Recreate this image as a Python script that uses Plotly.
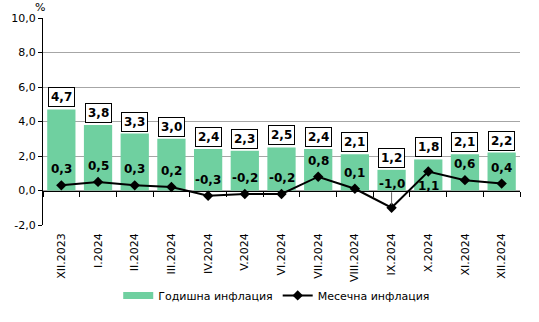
import plotly.graph_objects as go

# Periods and inflation rates (%)
periods = ["XII.2023", "I.2024", "II.2024", "III.2024", "IV.2024", "V.2024",
           "VI.2024", "VII.2024", "VIII.2024", "IX.2024", "X.2024", "XI.2024", "XII.2024"]
annual = [4.7, 3.8, 3.3, 3.0, 2.4, 2.3, 2.5, 2.4, 2.1, 1.2, 1.8, 2.1, 2.2]
monthly = [0.3, 0.5, 0.3, 0.2, -0.3, -0.2, -0.2, 0.8, 0.1, -1.0, 1.1, 0.6, 0.4]
y_ticks = [-2, 0, 2, 4, 6, 8, 10]

FONT = "DejaVu Sans"
BAR_COLOR = "#6fd0a0"


def fmt(v):
    return f"{v:.1f}".replace(".", ",")


fig = go.Figure()

fig.add_trace(go.Bar(
    x=periods, y=annual, name="Годишна инфлация",
    marker=dict(color=BAR_COLOR, line=dict(width=0)),
    xaxis="x", yaxis="y", showlegend=False,
))
# Legend key for the bars drawn as a thick flat stripe
fig.add_trace(go.Scatter(
    x=[None], y=[None], name="Годишна инфлация", mode="lines",
    line=dict(color=BAR_COLOR, width=7), xaxis="x", yaxis="y",
))
fig.add_trace(go.Scatter(
    x=periods, y=monthly, name="Месечна инфлация",
    mode="lines+markers",
    line=dict(color="black", width=2),
    marker=dict(symbol="diamond", size=8, color="black"),
    xaxis="x2", yaxis="y",
))

annotations = []
# Boxed annual labels above the bars
for p, v in zip(periods, annual):
    annotations.append(dict(
        x=p, y=v, xref="x", yref="y", text=fmt(v),
        showarrow=False, yshift=12,
        font=dict(family=FONT, size=12, color="black", weight="bold"),
        bgcolor="white", bordercolor="black", borderwidth=1, borderpad=2,
    ))
# Monthly labels next to the line points
for p, v in zip(periods, monthly):
    ann = dict(
        x=p, y=v, xref="x", yref="y", text=fmt(v),
        font=dict(family=FONT, size=12, color="black", weight="bold"),
    )
    if p == "IX.2024":
        ann.update(showarrow=True, arrowhead=0, arrowwidth=1, arrowcolor="#606060",
                   ax=0, ay=-24, standoff=3)
    elif p == "X.2024":
        ann.update(showarrow=False, yshift=-14)
    else:
        ann.update(showarrow=False, yshift=16)
    annotations.append(ann)

# Unit label above the value axis
annotations.append(dict(
    x=0, y=1, xref="paper", yref="paper", text="%", showarrow=False,
    xanchor="center", yanchor="bottom", xshift=-3, yshift=2,
    font=dict(family=FONT, size=11, color="black"),
))

zero_pos = (0 - (-2)) / 12.0

fig.update_layout(
    width=539, height=322,
    margin=dict(l=43, r=19, t=18, b=94),
    paper_bgcolor="white", plot_bgcolor="white",
    separators=",.",
    bargap=0.23,
    font=dict(family=FONT, size=11, color="black"),
    showlegend=True,
    legend=dict(orientation="h", x=0.49, xanchor="center", y=-0.34, yanchor="middle",
                font=dict(family=FONT, size=11, color="black"),
                tracegroupgap=0, bgcolor="rgba(0,0,0,0)"),
    xaxis=dict(
        type="category", categoryorder="array", categoryarray=periods,
        range=[-0.5, 12.5], tickangle=-90, showgrid=False, showline=False,
        ticks="", ticklabelstandoff=5,
        tickfont=dict(family=FONT, size=11, color="black"),
        anchor="y",
    ),
    xaxis2=dict(
        type="category", categoryorder="array", categoryarray=periods,
        range=[-0.5, 12.5], overlaying="x", anchor="free", position=zero_pos,
        showticklabels=False, showgrid=False, showline=True, linecolor="black",
        linewidth=1, ticks="outside", tickson="boundaries", ticklen=5,
        tickcolor="black", tickwidth=1,
    ),
    yaxis=dict(
        range=[-2, 10], tickvals=y_ticks, ticktext=[fmt(t) for t in y_ticks],
        showgrid=True, gridcolor="#a6a6a6", gridwidth=1,
        zeroline=False, showline=True, linecolor="black", linewidth=1,
        ticks="outside", ticklen=4, tickcolor="black",
        tickfont=dict(family=FONT, size=11, color="black"),
    ),
    annotations=annotations,
)

fig.write_html("out.html")
